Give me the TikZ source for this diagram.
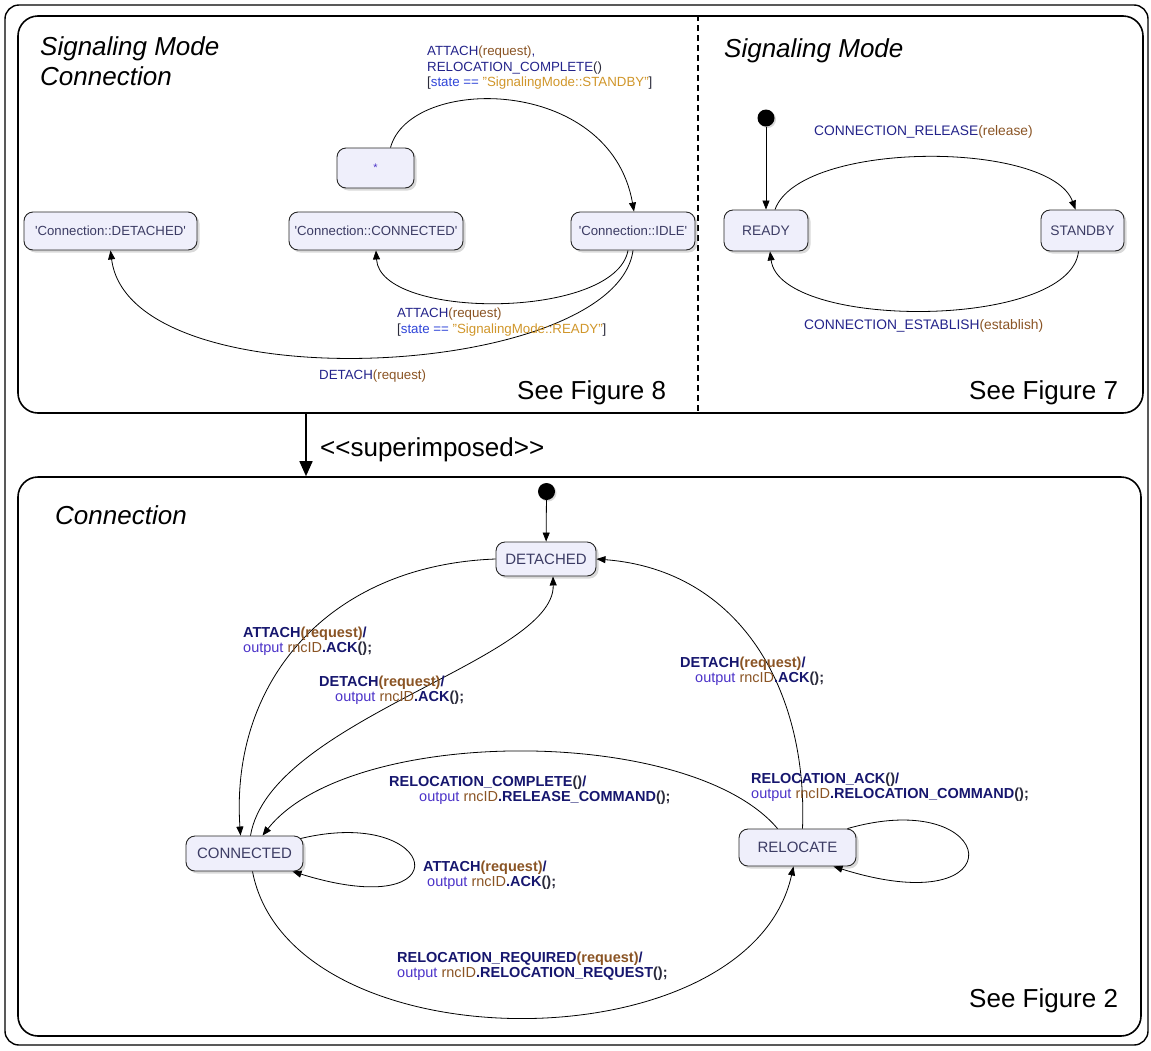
\documentclass[tikz,border=0pt]{standalone}
\usepackage{fontspec}
\setmainfont{Liberation Sans}
\usetikzlibrary{arrows.meta,shadows}

\definecolor{evt}{HTML}{23238A}
\definecolor{evtb}{HTML}{16166E}
\definecolor{par}{HTML}{8A5424}
\definecolor{grd}{HTML}{2F45D8}
\definecolor{str}{HTML}{D0962A}
\definecolor{outc}{HTML}{4B32C8}
\definecolor{pun}{HTML}{2A2A3A}
\definecolor{stxt}{HTML}{3C3C64}
\definecolor{sfill}{HTML}{EFEFFB}

% text fragments of the transition labels
\newcommand\tEv[1]{\textcolor{evt}{#1}}
\newcommand\tEvB[1]{\textcolor{evtb}{#1}}
\newcommand\tPar[1]{\textcolor{par}{#1}}
\newcommand\tGrd[1]{\textcolor{grd}{#1}}
\newcommand\tStr[1]{\textcolor{str}{#1}}
\newcommand\tOut[1]{\textcolor{outc}{\mdseries #1}}
\newcommand\tPun[1]{\textcolor{pun}{#1}}
\newcommand\tQ{\textquotesingle}

\begin{document}
\begin{tikzpicture}[x=1pt,y=-1pt,
  state/.style={draw=black!85, line width=0.9pt, rounded corners=9pt,
    fill=sfill, text=stxt, inner sep=0pt,
    drop shadow={shadow xshift=2.5pt,shadow yshift=-2.5pt,opacity=0.3}},
  tr/.style={line width=0.8pt, -{Triangle[length=9pt,width=7pt]}},
  lbl/.style={anchor=north west, inner sep=0pt, align=left,
    font=\fontsize{13.3}{15.5}\selectfont},
  blbl/.style={anchor=north west, inner sep=0pt, align=left,
    font=\fontsize{14.5}{15}\selectfont\bfseries},
  initial/.style={circle, fill=black, minimum size=17pt, inner sep=0pt,
    drop shadow={shadow xshift=1.5pt,shadow yshift=-1.5pt,opacity=0.3}},
  panel/.style={draw, line width=1.6pt, rounded corners=20pt, inner sep=0pt},
  title/.style={anchor=north west, inner sep=0pt, align=left,
    font=\fontsize{26}{30}\selectfont\itshape},
  note/.style={anchor=base west, inner sep=0pt, font=\fontsize{26}{30}\selectfont}
]
\useasboundingbox (0,0) rectangle (1151,1050);

% outer frame and the two regions
\draw[line width=1.4pt, rounded corners=14pt] (5,5) rectangle (1148,1045);
\node[panel, minimum width=1125pt, minimum height=397pt] (ptop) at (580.5,214.5) {};
\node[panel, minimum width=1123pt, minimum height=559pt] (pbot) at (579.5,756.5) {};
\coordinate (divx) at (698,200);
\draw[line width=1.5pt, dash pattern=on 6pt off 4pt] (ptop.north -| divx) -- (ptop.south -| divx);

% superimposition arrow
\coordinate (supx) at (306,445);
\draw[line width=1.6pt, -{Triangle[length=15pt,width=13pt]}] (ptop.south -| supx) -- (pbot.north -| supx);
\node[note] (suplbl) at (320,456) {<{}<superimposed>{}>};

% ---------- Signaling Mode Connection ----------
\node[title] (t1) at (40,36) {Signaling Mode\\Connection};
\node[state, minimum width=173pt, minimum height=38pt, font=\fontsize{13.2}{15}\selectfont] (cdet) at (110.5,231) {\tQ Connection::DETACHED\tQ};
\node[state, minimum width=174pt, minimum height=38pt, font=\fontsize{13.2}{15}\selectfont] (cconn) at (376,231) {\tQ Connection::CONNECTED\tQ};
\node[state, minimum width=124pt, minimum height=38pt, font=\fontsize{13.2}{15}\selectfont] (idle) at (633,231) {\tQ Connection::IDLE\tQ};
\node[state, minimum width=77pt, minimum height=40pt, font=\fontsize{11}{13}\selectfont, text=outc] (star) at (375.5,168) {*};

\draw[tr] ([xshift=15pt]star.north) .. controls (410,75) and (610,75) .. ([xshift=1pt]idle.north);
\draw[tr] ([xshift=-5pt]idle.south) .. controls (615,320) and (380,320) .. (cconn.south);
\draw[tr] (idle.south) .. controls (615,380) and (130,405) .. (cdet.south);

\node[lbl] (l1) at (427,46) {\tEv{ATTACH}\tPar{(request)}\tEv{,}\\
  \tEv{RELOCATION\_COMPLETE}\tPun{()}\\
  \tPun{[}\tGrd{state ==} \tStr{"SignalingMode::STANDBY"}\tPun{]}};
\node[lbl] (l2) at (397,308) {\tEv{ATTACH}\tPar{(request)}\\
  \tPun{[}\tGrd{state ==} \tStr{"SignalingMode::READY"}\tPun{]}};
\node[lbl] (l3) at (319,370) {\tEv{DETACH}\tPar{(request)}};
\node[note] (fig8) at (517,399) {See Figure 8};

% ---------- Signaling Mode ----------
\node[title] (t2) at (724,38) {Signaling Mode};
\node[initial] (initR) at (766,118) {};
\node[state, minimum width=84pt, minimum height=41pt, font=\fontsize{13.8}{15}\selectfont] (ready) at (766,230.5) {READY};
\node[state, minimum width=83pt, minimum height=41pt, font=\fontsize{13.8}{15}\selectfont] (standby) at (1082.5,230.5) {STANDBY};

\draw[tr] (initR) -- (ready);
\draw[tr] ([xshift=9pt]ready.north) .. controls (800,140) and (1050,140) .. ([xshift=-7pt]standby.north);
\draw[tr] ([xshift=-4pt]standby.south) .. controls (1070,330) and (780,330) .. ([xshift=4pt]ready.south);

\node[lbl, font=\fontsize{13.8}{15.5}\selectfont] (l4) at (814,125.5) {\tEv{CONNECTION\_RELEASE}\tPar{(release)}};
\node[lbl, font=\fontsize{13.8}{15.5}\selectfont] (l5) at (804,319.5) {\tEv{CONNECTION\_ESTABLISH}\tPar{(establish)}};
\node[note] (fig7) at (969,399) {See Figure 7};

% ---------- Connection ----------
\node[title] (t3) at (55,505) {Connection};
\node[initial] (initB) at (546.5,491.5) {};
\node[state, minimum width=100pt, minimum height=34pt, font=\fontsize{15}{17}\selectfont] (det) at (546,559) {DETACHED};
\node[state, minimum width=117pt, minimum height=35pt, font=\fontsize{15}{17}\selectfont] (conn) at (244.5,853.5) {CONNECTED};
\node[state, minimum width=117pt, minimum height=37pt, font=\fontsize{15}{17}\selectfont] (reloc) at (797.5,847.5) {RELOCATE};

\draw[tr] (initB) -- (det);
\draw[tr] (det.west) .. controls (330,565) and (230,680) .. ([xshift=-4pt]conn.north);
\draw[tr] ([xshift=6pt]conn.north) .. controls (270,720) and (555,660) .. ([xshift=7pt]det.south);
\draw[tr] ([xshift=5pt]reloc.north) .. controls (808,690) and (740,570) .. (det.east);
\draw[tr] ([xshift=-20pt]reloc.north) .. controls (690,725) and (350,725) .. ([xshift=18pt]conn.north);
\draw[tr] ([xshift=50pt]reloc.north) .. controls (1000,785) and (1020,925) .. ([xshift=36pt]reloc.south);
\draw[tr] ([xshift=-3pt,yshift=-3pt]conn.north east) .. controls (440,805) and (465,925) .. ([xshift=48pt]conn.south);
\draw[tr] ([xshift=8pt]conn.south) .. controls (290,1067) and (749,1067) .. ([xshift=-4pt]reloc.south);

\node[blbl] (b1) at (243,626.6) {\tEvB{ATTACH}\tPar{(request)}\tEvB{/}\\
  \tOut{output} \tPar{\mdseries rncID}\tEvB{.ACK}\tPun{();}};
\node[blbl] (b2) at (319,675.6) {\tEvB{DETACH}\tPar{(request)}\tEvB{/}\\
  \hspace*{16pt}\tOut{output} \tPar{\mdseries rncID}\tEvB{.ACK}\tPun{();}};
\node[blbl] (b3) at (680,656.6) {\tEvB{DETACH}\tPar{(request)}\tEvB{/}\\
  \hspace*{15pt}\tOut{output} \tPar{\mdseries rncID}\tEvB{.ACK}\tPun{();}};
\node[blbl] (b4) at (389,775.6) {\tEvB{RELOCATION\_COMPLETE}\tPun{()}\tEvB{/}\\
  \hspace*{30pt}\tOut{output} \tPar{\mdseries rncID}\tEvB{.RELEASE\_COMMAND}\tPun{();}};
\node[blbl] (b5) at (751,772.6) {\tEvB{RELOCATION\_ACK}\tPun{()}\tEvB{/}\\
  \tOut{output} \tPar{\mdseries rncID}\tEvB{.RELOCATION\_COMMAND}\tPun{();}};
\node[blbl] (b6) at (423,860.6) {\tEvB{ATTACH}\tPar{(request)}\tEvB{/}\\
  \hspace*{4pt}\tOut{output} \tPar{\mdseries rncID}\tEvB{.ACK}\tPun{();}};
\node[blbl] (b7) at (397,951.6) {\tEvB{RELOCATION\_REQUIRED}\tPar{(request)}\tEvB{/}\\
  \tOut{output} \tPar{\mdseries rncID}\tEvB{.RELOCATION\_REQUEST}\tPun{();}};
\node[note] (fig2) at (969,1007) {See Figure 2};
\end{tikzpicture}
\end{document}
